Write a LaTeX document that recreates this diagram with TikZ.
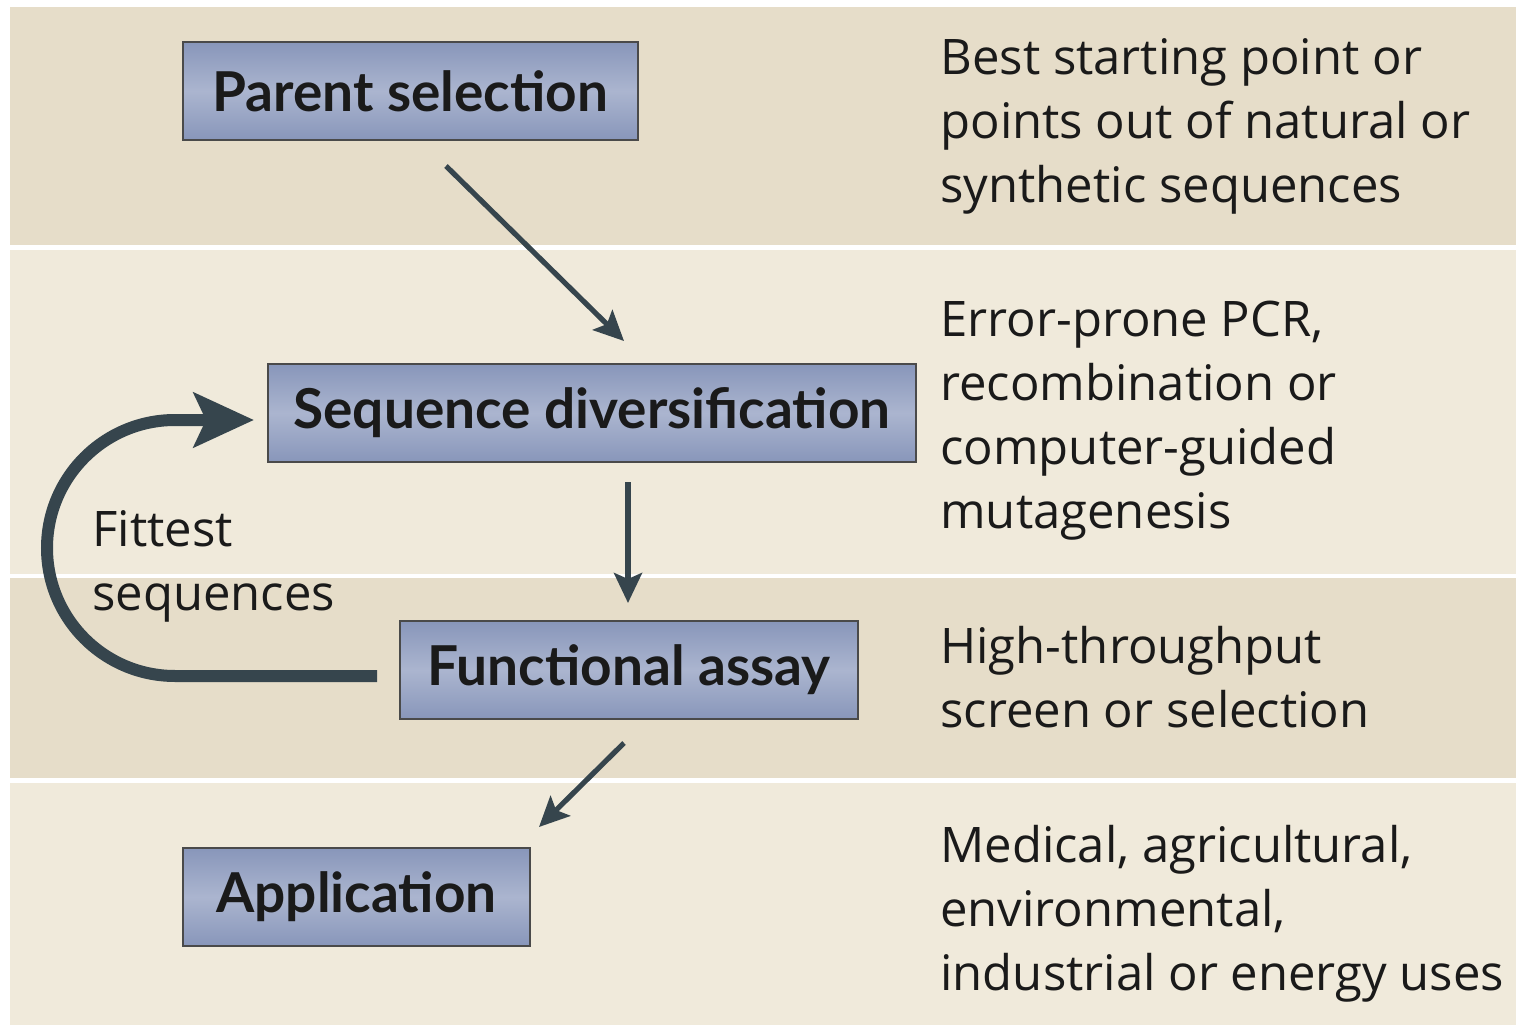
\documentclass[tikz,border=0pt]{standalone}
\usepackage{fontspec}
\setmainfont{Open Sans}
\newfontfamily\boxfont{Lato}
\usetikzlibrary{arrows.meta,calc}
\definecolor{bandA}{HTML}{E6DDC9}
\definecolor{bandB}{HTML}{F0EADB}
\definecolor{arrowc}{HTML}{36454D}
\definecolor{boxedge}{HTML}{4A4A4A}
\definecolor{boxout}{HTML}{8896BA}
\definecolor{boxin}{HTML}{ABB5CF}
\definecolor{txt}{HTML}{1A1A1A}
\begin{document}
\begin{tikzpicture}[x=0.5pt,y=-0.5pt,
  stepbox/.style={draw=boxedge,line width=1pt,top color=boxout,bottom color=boxout,middle color=boxin,
    minimum height=49pt,inner sep=0pt,font=\boxfont\fontsize{27.5}{32}\selectfont\bfseries,text=txt},
  desc/.style={anchor=base west,align=left,inner sep=0pt,font=\fontsize{24.5}{32}\selectfont,text=txt},
  thin arrow/.style={draw=arrowc,line width=2.6pt,-{Stealth[length=15pt,width=14pt,inset=3pt]}},
  loop arrow/.style={draw=arrowc,line width=6pt,-{Stealth[length=30pt,width=27pt,inset=6pt]}}]
\useasboundingbox (0,0) rectangle (1516,1027);
\fill[white] (0,0) rectangle (1516,1027);
% bands
\fill[bandA] (10,7) rectangle (1516,245);
\fill[bandB] (10,250) rectangle (1516,574);
\fill[bandA] (10,578) rectangle (1516,778);
\fill[bandB] (10,783) rectangle (1516,1025);
% boxes
\node[stepbox,minimum width=227.5pt] (parent) at (410.5,91) {Parent selection};
\node[stepbox,minimum width=324pt] (div) at (592,413) {Sequence diversification};
\node[stepbox,minimum width=229pt] (assay) at (629,670) {Functional assay};
\node[stepbox,minimum width=173.5pt] (app) at (356.5,897) {Application};
% connector ends
\coordinate (a1s) at ($(parent.south west)+(264,25)$);
\coordinate (a1e) at ($(div.north west)+(357,-22)$);
\coordinate (a2s) at ($(div.south west)+(361,19)$);
\coordinate (a2e) at ($(assay.north west)+(229,-17)$);
\coordinate (a3s) at ($(assay.south west)+(225,23)$);
\coordinate (a3e) at ($(app.north west)+(357,-20)$);
\draw[thin arrow] (a1s) -- (a1e);
\draw[thin arrow] (a2s) -- (a2e);
\draw[thin arrow] (a3s) -- (a3e);
% feedback loop
\coordinate (ls) at ($(assay.west)+(-22,6)$);
\coordinate (le) at ($(div.west)+(-13,7)$);
\draw[loop arrow] (ls) -- (175,676) arc[start angle=90,end angle=270,radius=128] -- (le);
\node[desc] (fit) at (92,610) {Fittest\\sequences};
% descriptions
\node[desc] (d1) at (940,203) {Best starting point or\\points out of natural or\\synthetic sequences};
\node[desc] (d2) at (940,528) {Error-prone PCR,\\recombination or\\computer-guided\\mutagenesis};
\node[desc] (d3) at (940,727) {High-throughput\\screen or selection};
\node[desc] (d4) at (940,990) {Medical, agricultural,\\environmental,\\industrial or energy uses};
\end{tikzpicture}
\end{document}
